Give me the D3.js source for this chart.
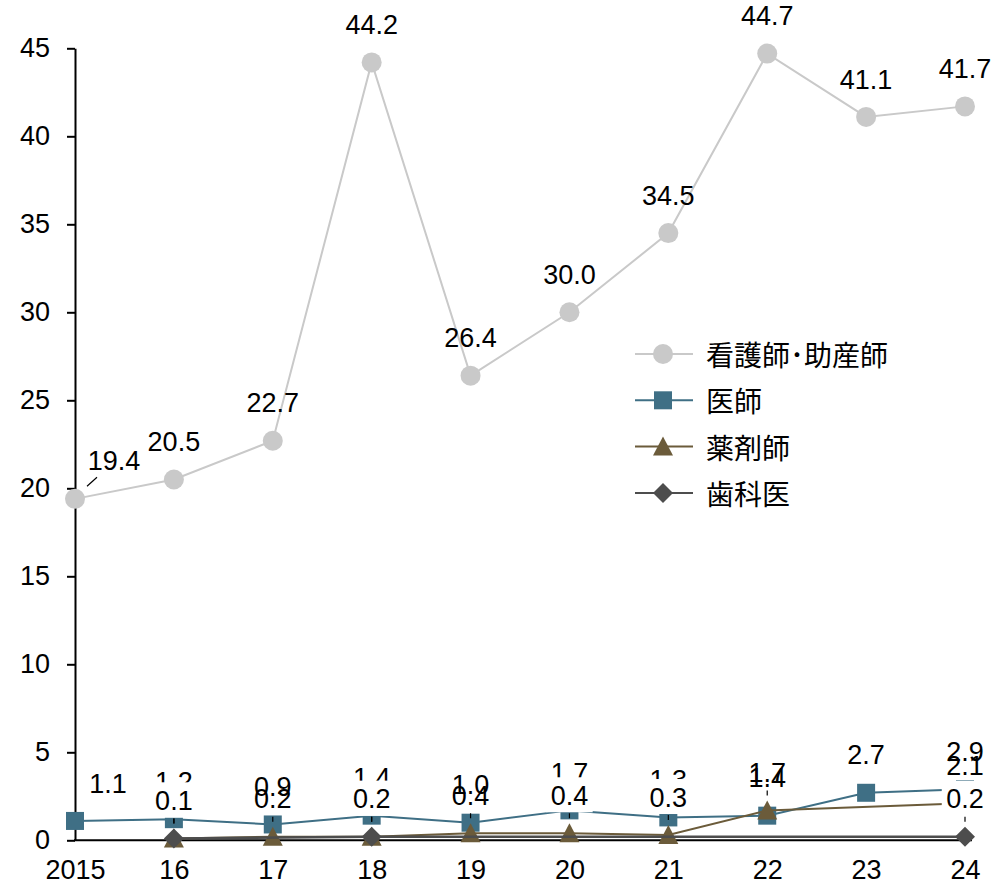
<!DOCTYPE html>
<html>
<head>
<meta charset="utf-8">
<script src="https://cdn.jsdelivr.net/npm/d3@7"></script>
<style>
  html, body { margin: 0; padding: 0; background: #fff; }
  svg { display: block; }
  text { font-family: "Liberation Sans", Arial, sans-serif; }
  .jp { font-family: "Noto Sans CJK JP", "Noto Sans CJK SC", sans-serif; }
</style>
</head>
<body>
<svg id="chart" width="997" height="884"></svg>
<script>
// ---- data ----
const years = ["2015", "16", "17", "18", "19", "20", "21", "22", "23", "24"];
const nurses = [19.4, 20.5, 22.7, 44.2, 26.4, 30.0, 34.5, 44.7, 41.1, 41.7];
const doctors = [1.1, 1.2, 0.9, 1.4, 1.0, 1.7, 1.3, 1.4, 2.7, 2.9];
const pharmacists = [null, 0.1, 0.2, 0.2, 0.4, 0.4, 0.3, 1.7, null, 2.1];
const dentists = [null, 0.1, null, 0.2, null, null, null, null, null, 0.2];
const seriesNames = ["看護師･助産師", "医師", "薬剤師", "歯科医"];
const yTicks = [0, 5, 10, 15, 20, 25, 30, 35, 40, 45];

// ---- style config ----
const colors = ["#c9c9c9", "#3f6f85", "#6b5b3a", "#4d4d4d"];
const shapes = ["circle", "square", "triangle", "diamond"];
const FONT = 27;
const LEGEND_FONT = 28;
const boxedLabels = [new Set(), new Set(), new Set([1, 3, 5, 6]), new Set([1, 3, 9])];
const hasLeader = [false, false, true, true];

const svg = d3.select("#chart");
const x = d3.scalePoint().domain(years).range([75, 965]);
const y = d3.scaleLinear().domain([0, 45]).range([840.3, 48.3]);

const series = [nurses, doctors, pharmacists, dentists].map((vals, s) => ({
  name: seriesNames[s],
  color: colors[s],
  shape: shapes[s],
  pts: vals.map((v, i) => ({ cat: years[i], v, i })).filter(d => d.v != null)
}));

// ---- axes ----
const yAxis = svg.append("g")
  .attr("transform", "translate(75,0)")
  .call(d3.axisLeft(y).tickValues(yTicks).tickSize(8).tickSizeOuter(0).tickPadding(17).tickFormat(d3.format("d")));
yAxis.select(".domain").attr("stroke", "#000").attr("stroke-width", 2);
yAxis.selectAll(".tick line").attr("stroke", "#000").attr("stroke-width", 2);
yAxis.selectAll(".tick text").attr("font-size", FONT).attr("fill", "#000")
  .attr("font-family", "Liberation Sans, Arial, sans-serif");

const xAxis = svg.append("g")
  .attr("transform", "translate(0,840.3)")
  .call(d3.axisBottom(x).tickSize(0).tickSizeOuter(0).tickPadding(20));
xAxis.select(".domain").remove();
xAxis.selectAll(".tick text").attr("font-size", FONT).attr("fill", "#000")
  .attr("font-family", "Liberation Sans, Arial, sans-serif");
svg.append("line").attr("x1", 74).attr("x2", 972).attr("y1", 840.3).attr("y2", 840.3)
  .attr("stroke", "#000").attr("stroke-width", 2);

// ---- marker helper ----
function marker(g, shape, cx, cy, color) {
  if (shape === "circle") {
    g.append("circle").attr("cx", cx).attr("cy", cy).attr("r", 10).attr("fill", color);
  } else if (shape === "square") {
    g.append("rect").attr("x", cx - 9).attr("y", cy - 9).attr("width", 18).attr("height", 18).attr("fill", color);
  } else if (shape === "triangle") {
    g.append("path").attr("d", `M${cx},${cy - 10}L${cx + 10},${cy + 9}L${cx - 10},${cy + 9}Z`).attr("fill", color);
  } else {
    g.append("path").attr("d", `M${cx},${cy - 10}L${cx + 10},${cy}L${cx},${cy + 10}L${cx - 10},${cy}Z`).attr("fill", color);
  }
}

// ---- lines & markers ----
const line = d3.line().x(d => x(d.cat)).y(d => y(d.v));
const plot = svg.append("g");
series.forEach((s, si) => {
  plot.append("path").datum(s.pts).attr("d", line)
    .attr("fill", "none").attr("stroke", s.color).attr("stroke-width", si === 3 ? 2.5 : 2);
  const mg = plot.append("g");
  s.pts.forEach(d => marker(mg, s.shape, x(d.cat), y(d.v), s.color));
});

// ---- data labels ----
const labels = svg.append("g");
series.forEach((s, si) => {
  s.pts.forEach(d => {
    const px = x(d.cat), py = y(d.v);
    let dx = 0;
    if (d.i === 0) dx = si === 0 ? 39 : 33;
    const cx = px + dx, cy = py - 38;
    const txt = d.v.toFixed(1);
    if (boxedLabels[si].has(d.i)) {
      const w = txt.length * FONT * 0.5 + 6;
      labels.append("rect").attr("x", cx - w / 2).attr("y", cy - 18)
        .attr("width", w).attr("height", 35).attr("fill", "#fff");
    }
    labels.append("text").attr("x", cx).attr("y", cy + 9.6)
      .attr("text-anchor", "middle").attr("font-size", FONT).attr("fill", "#000").text(txt);
    if (hasLeader[si] && dx === 0) {
      labels.append("line").attr("x1", px).attr("x2", px).attr("y1", cy + 18).attr("y2", cy + 23)
        .attr("stroke", "#000").attr("stroke-width", 1.2);
    }
    if (si === 0 && dx !== 0) {
      labels.append("line").attr("x1", px + 12).attr("y1", py - 12.6).attr("x2", px + 22).attr("y2", py - 21.6)
        .attr("stroke", "#000").attr("stroke-width", 1.2);
    }
  });
});

// ---- legend ----
const legend = svg.append("g");
series.forEach((s, si) => {
  const ly = 354 + si * 46.3;
  legend.append("line").attr("x1", 635).attr("x2", 693).attr("y1", ly).attr("y2", ly)
    .attr("stroke", s.color).attr("stroke-width", 2);
  marker(legend, s.shape, 663, ly, s.color);
  legend.append("text").attr("class", "jp").attr("x", 706).attr("y", ly)
    .attr("dominant-baseline", "central").attr("font-size", LEGEND_FONT).attr("fill", "#000").text(s.name);
});
</script>
</body>
</html>
